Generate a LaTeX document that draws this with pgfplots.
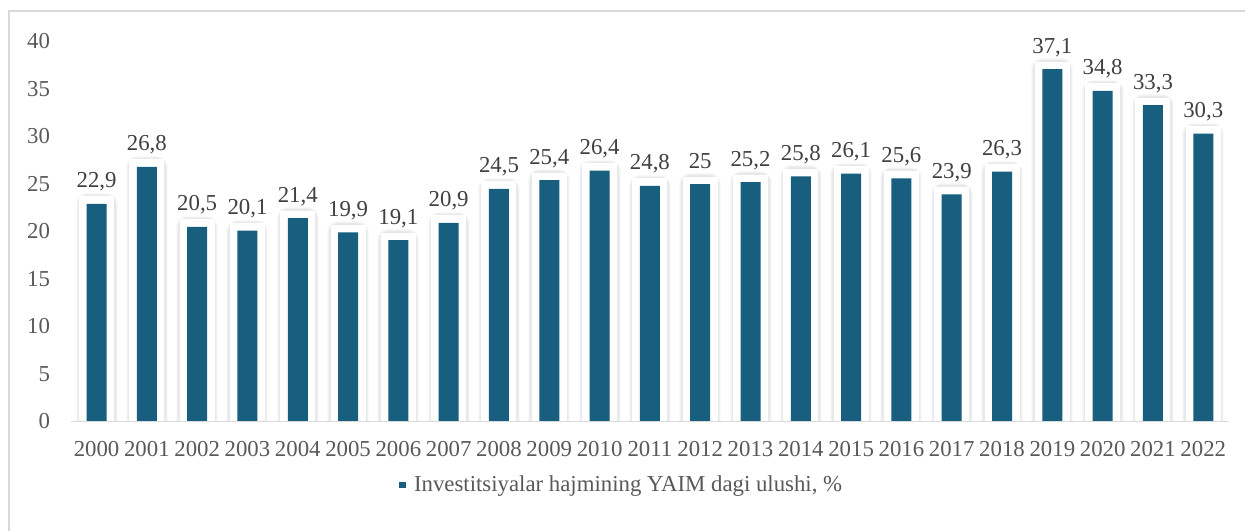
\documentclass[border=0pt]{standalone}
\usepackage{pgfplots}
\pgfplotsset{compat=1.18}
\usepackage{fontspec}
\setmainfont{Liberation Serif}
\definecolor{barblue}{HTML}{175E7F}
\definecolor{lgrey}{HTML}{D9D9D9}
\definecolor{tgrey}{HTML}{595959}
\definecolor{vgrey}{HTML}{404040}
\newcommand{\chfont}{\fontsize{11.4}{13}\selectfont}
\begin{document}
\begin{tikzpicture}
\useasboundingbox (-35.7pt,-54.25pt) rectangle (586.8pt,210.75pt);
\fill[white] (-35.7pt,-54.25pt) rectangle (586.8pt,210.75pt);
\draw[lgrey, line width=1pt] (-31.2pt,-57.75pt) rectangle (590.3pt,205.25pt);
\begin{axis}[
  at={(0pt,0pt)}, anchor=south west,
  scale only axis,
  width=578.5pt, height=190pt,
  xmin=-0.5, xmax=22.5, ymin=0, ymax=40,
  enlargelimits=false,
  axis on top=true,
  separate axis lines,
  axis x line*=bottom, axis y line*=left,
  x axis line style={-, draw=lgrey, line width=0.8pt},
  y axis line style={draw=none},
  major tick length=0pt,
  xtick={0,...,22},
  xticklabels={2000,2001,2002,2003,2004,2005,2006,2007,2008,2009,2010,2011,2012,2013,2014,2015,2016,2017,2018,2019,2020,2021,2022},
  ytick={0,5,...,40},
  /pgf/number format/assume math mode=true,
  /pgf/number format/use comma,
  tick label style={font=\chfont, text=tgrey},
  yticklabel style={anchor=east, inner sep=0pt, xshift=-10.5pt},
  xticklabel style={anchor=base, inner sep=0pt, yshift=-17.5pt},
  ybar, bar width=10pt,
  nodes near coords,
  nodes near coords style={font=\chfont, text=vgrey, anchor=base, inner sep=0pt, yshift=8pt},
  legend style={at={(0.4766,-0.167)}, anchor=center, draw=none, fill=none,
    font=\chfont, text=tgrey, legend cell align=left},
]
\addlegendimage{legend image code/.code={\fill[barblue] (0pt,-1.3pt) rectangle (2.6pt,1.3pt); \path[draw=none] (0pt,0pt) -- (5.1pt,0pt);}}
\addlegendentry{Investitsiyalar hajmining YAIM dagi ulushi, \%}
\addplot[forget plot, fill=barblue, draw=none, bar shift=0pt,
  preaction={draw=black, draw opacity=0.025, line width=11pt, line join=round},
  preaction={draw=black, draw opacity=0.03, line width=10pt, line join=round},
  preaction={draw=black, draw opacity=0.035, line width=9pt, line join=round},
  preaction={draw=white, line width=7.5pt, line join=miter}]
coordinates {
(0,22.9) (1,26.8) (2,20.5) (3,20.1) (4,21.4) (5,19.9) (6,19.1) (7,20.9)
(8,24.5) (9,25.4) (10,26.4) (11,24.8) (12,25) (13,25.2) (14,25.8) (15,26.1)
(16,25.6) (17,23.9) (18,26.3) (19,37.1) (20,34.8) (21,33.3) (22,30.3)
};
\end{axis}
\end{tikzpicture}
\end{document}
